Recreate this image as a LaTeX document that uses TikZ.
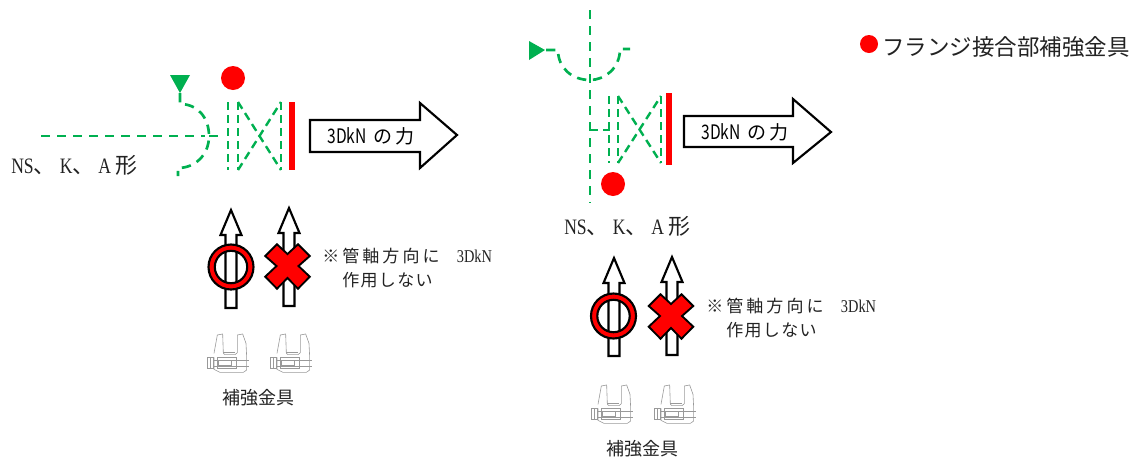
\documentclass[tikz,border=0pt]{standalone}
\usepackage{fontspec}
\setmainfont{Liberation Serif}
\newfontfamily\jp{Noto Sans CJK JP}
\newfontfamily\jpw[LetterSpace=18]{Noto Sans CJK JP}
\newfontfamily\jpn[LetterSpace=8]{Noto Sans CJK JP}
\newfontfamily\lat[FakeStretch=0.8]{Liberation Serif}
\newfontfamily\gothlat[FakeStretch=0.78]{Noto Sans CJK JP}
\definecolor{pipegreen}{HTML}{00B050}
\definecolor{markred}{HTML}{FF0000}
\definecolor{txt}{HTML}{222222}
\newcommand{\fs}[1]{\edef\fsz{\the\dimexpr #1pt*3/4\relax}\fontsize{\fsz}{\fsz}\selectfont}
\newcommand{\shapename}{{\lat\fs{22}NS}{\jp\fs{22}、}\hspace{3pt}{\lat\fs{22}K}{\jp\fs{22}、}\hspace{3pt}{\lat\fs{22}A}\hspace{3pt}{\jp\fs{22}形}}
\newcommand{\forcetext}{{\gothlat\fs{20}3DkN}\hspace{5pt}{\jp\fs{19}の}\hspace{2.5pt}{\jp\fs{19}力}}
\newcommand{\notetext}{{\jpw\fs{17}※管軸方向に}\hspace{13pt}{\lat\fs{18}3DkN}}
\tikzset{
  x=0.75pt,y=-0.75pt,
  pipe/.style={draw=pipegreen,line width=2pt,dash pattern=on 7pt off 5pt},
  thinpipe/.style={draw=pipegreen,line width=1.8pt,dash pattern=on 6pt off 3.8pt},
  endmark/.style={fill=pipegreen,draw=none},
  redbar/.style={fill=markred,draw=none},
  reddot/.style={circle,fill=markred,draw=none,minimum size=18pt,inner sep=0pt},
  hollow/.style={draw=black,fill=white,line width=1.6pt,line join=miter},
  clampline/.style={draw=black!40,line width=0.45pt},
  label/.style={inner sep=0pt,text=txt,anchor=center},
  pics/uparrow/.style={code={
    \draw[hollow] (-5.5,98)--(-5.5,25)--(-10.5,25)--(0,0)--(10.5,25)--(5.5,25)--(5.5,98)--cycle;
  }},
  pics/okmark/.style={code={
    \draw[fill=markred,draw=black,line width=1.6pt,even odd rule] (0,0) circle[radius=22.5] (0,0) circle[radius=16.2];
  }},
  pics/ngmark/.style={code={
    \draw[fill=markred,draw=black,line width=1.4pt,line join=miter]
      (-22.3,-10)--(-10.5,-21.7)--(0,-12)--(10.5,-21.7)--(22.3,-10)--(11,0)--(22.3,10.7)--(10.5,22.7)--(0,12)--(-10.5,22.7)--(-22.3,10.7)--(-11,0)--cycle;
  }},
  pics/clamp/.style={code={
    \begin{scope}[x=0.25pt,y=-0.25pt,clampline]
      \draw (42,100)--(52,45)--(68,42)--(70,100)--(75,104)--(105,104)--(112,98)--(112,45)--(128,42)--(138,70)--(140,110)--(140,150)--(130,157)--(60,157)--(42,148)--(42,112);
      \draw (70,98)--(105,98);
      \draw (22,113) rectangle (40,146);
      \draw (30,113)--(30,146);
      \draw (40,120)--(147,120) (40,138)--(147,138);
      \draw (52,112)--(110,112)--(110,146)--(52,146)--cycle;
      \draw (55,122)--(95,122)--(95,137)--(55,137)--cycle;
    \end{scope}
  }}
}
\begin{document}
\begin{tikzpicture}
\useasboundingbox (0,0) rectangle (1133,458);
% ---------- left joint
\coordinate (la) at (41,136);
\coordinate (lb) at (205,136);
\coordinate (lc) at (209,136);
\coordinate (ld) at (224,136);
\fill[endmark] (170,75)--(190,75)--(180,93)--cycle;
\coordinate (ls) at (180,93);
\coordinate (le) at (178,176);
\draw[pipe] (la)--(lb);
\draw[pipe] (lc)--(ld);
\draw[pipe] (ls)--(180,104) .. controls (198,104) and (209,118) .. (lc) .. controls (209,156) and (194,168) .. (178,168) -- (le);
\coordinate (lf1a) at (228,102); \coordinate (lf1b) at (228,170);
\coordinate (lf2a) at (238,102); \coordinate (lf2b) at (238,170);
\coordinate (lf3a) at (281,102); \coordinate (lf3b) at (281,170);
\draw[thinpipe] (lf1a)--(lf1b);
\draw[thinpipe] (lf2a)--(lf2b);
\draw[thinpipe] (lf3a)--(lf3b);
\draw[thinpipe] (lf2a)--(lf3b);
\draw[thinpipe] (lf2b)--(lf3a);
\node[redbar,minimum width=4.5pt,minimum height=51pt,inner sep=0pt] (lbar) at (292,136) {};
\node[reddot] (ldot) at (233,78) {};
% left force arrow
\draw[hollow] (310,120)--(420,120)--(420,103)--(457,135)--(420,168)--(420,152)--(310,152)--cycle;
\node[label,text=black] (lforce) at (371,136) {\forcetext};
\node[label,anchor=west] (lname) at (11,165) {\shapename};
% left marks
\pic at (231,210) {uparrow};
\pic at (231,267) {okmark};
\pic at (289,208) {uparrow};
\pic at (287.5,266) {ngmark};
\node[label,anchor=west] (lnote1) at (322,256) {\notetext};
\node[label,anchor=west] (lnote2) at (342,280) {{\jpn\fs{17}作用しない}};
\pic at (200,320) {clamp};
\pic at (263,320) {clamp};
\node[label] (lclamp) at (258,398) {\jp\fs{18}補強金具};
% ---------- right joint
\coordinate (ra) at (590,10);
\coordinate (rb) at (590,203);
\draw[pipe] (ra)--(rb);
\coordinate (rh) at (590,130);
\coordinate (rj) at (610,130);
\draw[thinpipe] (rh)--(rj);
\fill[endmark] (529,41)--(545,50)--(529,60)--cycle;
\coordinate (rs) at (546,50);
\coordinate (rm) at (590,80);
\coordinate (re) at (630,49);
\draw[pipe] (rs)--(558,50) .. controls (558,68) and (572,80) .. (rm) .. controls (605,80) and (620,68) .. (620,49) -- (re);
\coordinate (rf1a) at (609,96); \coordinate (rf1b) at (609,163);
\coordinate (rf2a) at (618,96); \coordinate (rf2b) at (618,163);
\coordinate (rf3a) at (661,96); \coordinate (rf3b) at (661,163);
\draw[thinpipe] (rf1a)--(rf1b);
\draw[thinpipe] (rf2a)--(rf2b);
\draw[thinpipe] (rf3a)--(rf3b);
\draw[thinpipe] (rf2a)--(rf3b);
\draw[thinpipe] (rf2b)--(rf3a);
\node[redbar,minimum width=4.5pt,minimum height=54pt,inner sep=0pt] (rbar) at (669,129) {};
\node[reddot] (rdot) at (613,184) {};
% right force arrow
\draw[hollow] (684,116)--(793,116)--(793,99)--(831,132)--(793,163)--(793,147)--(684,147)--cycle;
\node[label,text=black] (rforce) at (745,132) {\forcetext};
\node[label,anchor=west] (rname) at (564,226) {\shapename};
% right marks
\pic at (614,258) {uparrow};
\pic at (613.5,316) {okmark};
\pic at (672,257) {uparrow};
\pic at (671,316) {ngmark};
\node[label,anchor=west] (rnote1) at (706,306) {\notetext};
\node[label,anchor=west] (rnote2) at (726,330) {{\jpn\fs{17}作用しない}};
\pic at (584,371) {clamp};
\pic at (647,371) {clamp};
\node[label] (rclamp) at (642,449) {\jp\fs{18}補強金具};
% ---------- legend
\node[reddot,minimum size=13.5pt] (legdot) at (869,44) {};
\node[label,anchor=west] (legtext) at (882,47) {\jp\fs{22.5}フランジ接合部補強金具};
\end{tikzpicture}
\end{document}
